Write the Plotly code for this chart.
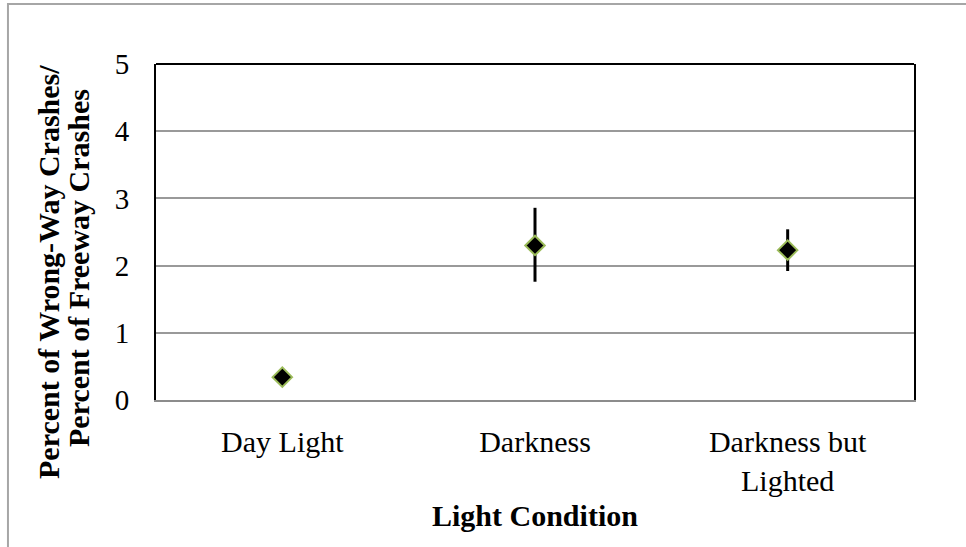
import plotly.graph_objects as go

# Light condition data
categories = ["Day Light", "Darkness", "Darkness but<br>Lighted"]
ratio = [0.34, 2.30, 2.23]
err_up = [0.0, 0.56, 0.31]
err_down = [0.0, 0.54, 0.31]

y_ticks = [0, 1, 2, 3, 4, 5]

FONT = "Liberation Serif, Times New Roman, serif"

fig = go.Figure(
    go.Scatter(
        x=categories,
        y=ratio,
        mode="markers",
        marker={
            "symbol": "diamond",
            "size": 15,
            "color": "black",
            "line": {"color": "#9BBB59", "width": 2},
        },
        error_y={
            "type": "data",
            "symmetric": False,
            "array": err_up,
            "arrayminus": err_down,
            "color": "black",
            "thickness": 3,
            "width": 0,
        },
        showlegend=False,
    )
)

fig.update_layout(
    width=966,
    height=547,
    margin={"l": 156, "r": 52, "t": 64, "b": 147},
    paper_bgcolor="white",
    plot_bgcolor="white",
    font={"family": FONT, "size": 30, "color": "black"},
    shapes=[
        # outer chart border (only left and top visible)
        {
            "type": "rect", "xref": "paper", "yref": "paper",
            "x0": -0.1953, "x1": 1.09, "y0": -0.47, "y1": 1.1786,
            "line": {"color": "#a6a6a6", "width": 2},
            "layer": "below",
        },
        # top border of plot area
        {
            "type": "line", "xref": "paper", "yref": "paper",
            "x0": 0, "x1": 1, "y0": 1, "y1": 1,
            "line": {"color": "black", "width": 2},
        },
    ],
    annotations=[
        {
            "text": "<b>Percent of Wrong-Way Crashes/</b>",
            "xref": "paper", "yref": "paper",
            "x": (48 - 156) / 758, "y": (400 - 272) / 336,
            "textangle": -90, "showarrow": False,
            "xanchor": "center", "yanchor": "middle",
        },
        {
            "text": "<b>Percent of Freeway Crashes</b>",
            "xref": "paper", "yref": "paper",
            "x": (78 - 156) / 758, "y": (400 - 268) / 336,
            "textangle": -90, "showarrow": False,
            "xanchor": "center", "yanchor": "middle",
        },
        {
            "text": "<b>Light Condition</b>",
            "xref": "paper", "yref": "paper",
            "x": 0.5, "y": (400 - 515) / 336,
            "showarrow": False,
            "xanchor": "center", "yanchor": "middle",
        },
    ],
)

fig.update_xaxes(
    range=[-0.5, 2.5],
    showline=True,
    linecolor="#8c8c8c",
    linewidth=2,
    showgrid=False,
    ticks="",
    ticklabelstandoff=14,
)
fig.update_yaxes(
    range=[0, 5],
    tickvals=y_ticks,
    showline=True,
    mirror=True,
    linecolor="black",
    linewidth=2,
    showgrid=True,
    gridcolor="#999999",
    gridwidth=1.5,
    zeroline=False,
    ticks="",
    ticklabelstandoff=19,
    tickfont={"size": 29},
)

fig.write_html(
    "out.html",
    config={"displayModeBar": False},
    post_script="document.body.style.margin='0';",
)
